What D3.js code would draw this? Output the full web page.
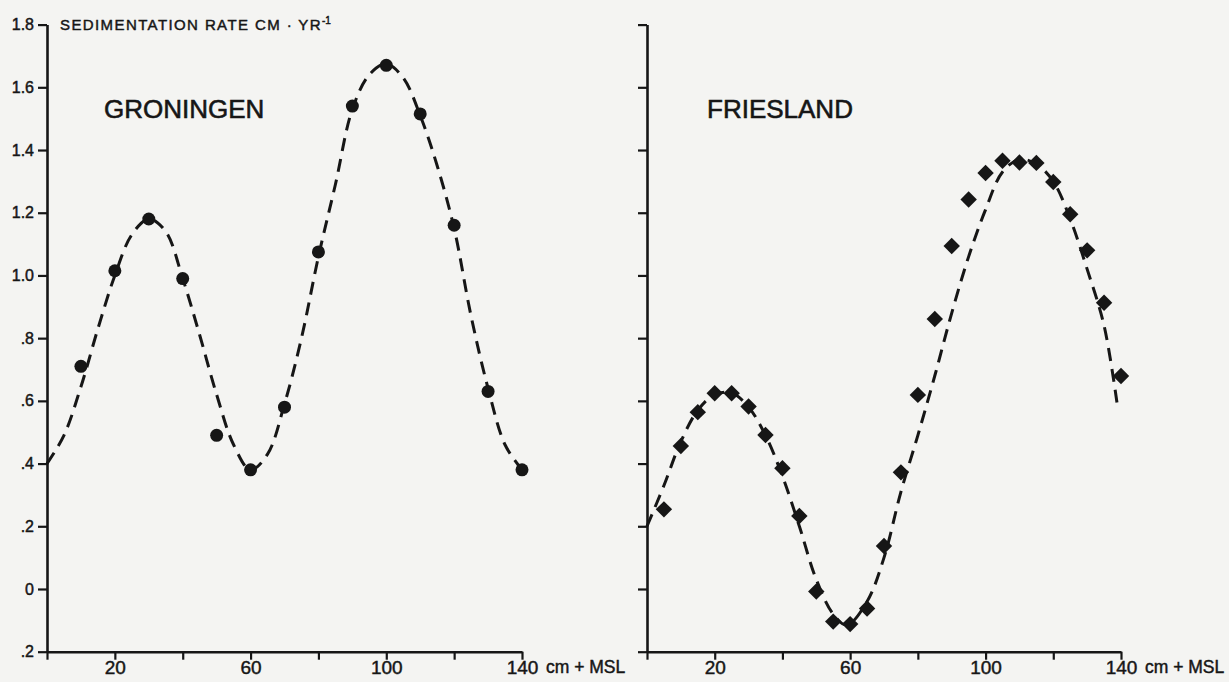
<!DOCTYPE html>
<html>
<head>
<meta charset="utf-8">
<script src="https://cdn.jsdelivr.net/npm/d3@7/dist/d3.min.js"></script>
<style>
  html, body { margin: 0; padding: 0; background: #f4f4f2; }
  svg { display: block; }
  text { font-family: "Liberation Sans", Arial, Helvetica, sans-serif; fill: #161616; stroke: #161616; stroke-width: 0.45px; }
</style>
</head>
<body>
<svg id="chart" width="1229" height="682"></svg>
<script>
// Sedimentation rate (cm/yr) against elevation (cm + MSL)

// Y axis ticks and their printed labels
const yTicks = [-0.2, 0, 0.2, 0.4, 0.6, 0.8, 1.0, 1.2, 1.4, 1.6, 1.8];
const yTickLabels = [".2", "0", ".2", ".4", ".6", ".8", "1.0", "1.2", "1.4", "1.6", "1.8"];

// X axis ticks and labelled positions
const xTicks = [0, 20, 40, 60, 80, 100, 120, 140];
const xLabelled = [20, 60, 100, 140];

// Groningen observations
const gronX = [10, 20, 30, 40, 50, 60, 70, 80, 90, 100, 110, 120, 130, 140];
const gronY = [0.71, 1.015, 1.18, 0.99, 0.49, 0.38, 0.58, 1.075, 1.54, 1.67, 1.515, 1.16, 0.63, 0.38];

// Groningen fitted curve
const gronFitX = [0, 5, 10, 15, 20, 25, 30, 35, 40, 45, 50, 55, 60, 65, 70, 75, 80, 85, 90, 95, 100, 105, 110, 115, 120, 125, 130, 135, 140];
const gronFitY = [0.40, 0.49, 0.645, 0.83, 1.00, 1.13, 1.18, 1.14, 0.99, 0.81, 0.62, 0.46, 0.38, 0.43, 0.59, 0.80, 1.06, 1.29, 1.53, 1.64, 1.675, 1.63, 1.51, 1.35, 1.15, 0.87, 0.64, 0.46, 0.38];

// Friesland observations
const friesX = [5, 10, 15, 20, 25, 30, 35, 40, 45, 50, 55, 60, 65, 70, 75, 80, 85, 90, 95, 100, 105, 110, 115, 120, 125, 130, 135, 140];
const friesY = [0.254, 0.456, 0.564, 0.624, 0.624, 0.582, 0.491, 0.385, 0.233, -0.008, -0.104, -0.112, -0.062, 0.137, 0.372, 0.619, 0.861, 1.094, 1.242, 1.327, 1.366, 1.36, 1.359, 1.298, 1.195, 1.08, 0.913, 0.679];

// Friesland fitted curve
const friesFitX = [0, 5, 10, 15, 20, 25, 30, 35, 40, 45, 50, 55, 59, 65, 70, 75, 80, 85, 90, 95, 100, 105, 110, 115, 120, 125, 130, 135, 139];
const friesFitY = [0.20, 0.33, 0.47, 0.57, 0.62, 0.625, 0.58, 0.49, 0.36, 0.20, 0.03, -0.08, -0.115, -0.04, 0.10, 0.31, 0.49, 0.68, 0.88, 1.06, 1.21, 1.33, 1.37, 1.355, 1.30, 1.18, 1.02, 0.84, 0.58];

const svg = d3.select("#chart");
const ink = "#161616";

const y = d3.scaleLinear().domain([-0.2, 1.8]).range([651.7, 24.6]);
const yLabel = new Map(yTicks.map((t, i) => [t, yTickLabels[i]]));

function panel(x0, x1, name, fitX, fitY, obsX, obsY, marker, showYLabels) {
  const x = d3.scaleLinear().domain([0, 140]).range([x0, x1]);
  const g = svg.append("g");

  // vertical axis
  const yAxis = d3.axisLeft(y)
    .tickValues(yTicks)
    .tickSize(9)
    .tickSizeOuter(0)
    .tickPadding(4)
    .tickFormat(d => showYLabels ? yLabel.get(d) : "");
  const ya = g.append("g").attr("transform", `translate(${x(0)},0)`).call(yAxis);
  ya.selectAll("text").style("font-size", "16px").style("font-family", "'Liberation Sans', Arial, sans-serif");

  // horizontal axis
  const xAxis = d3.axisBottom(x)
    .tickValues(xTicks)
    .tickSize(8)
    .tickSizeOuter(0)
    .tickPadding(1)
    .tickFormat(d => xLabelled.includes(d) ? String(d) : "");
  const xa = g.append("g").attr("transform", `translate(0,${y(-0.2)})`).call(xAxis);
  xa.selectAll("text").style("font-size", "19px").style("font-family", "'Liberation Sans', Arial, sans-serif");

  [ya, xa].forEach(a => {
    a.select(".domain").attr("stroke", ink).attr("stroke-width", 2.6);
    a.selectAll(".tick line").attr("stroke", ink).attr("stroke-width", 2.2);
    a.selectAll("text").attr("fill", ink).attr("stroke", ink).attr("stroke-width", 0.45);
  });

  // unit label after the last tick
  g.append("text")
    .attr("x", x(140) + 24)
    .attr("y", y(-0.2) + 8 + 1)
    .attr("dy", "0.71em")
    .style("font-size", "17.5px")
    .text("cm + MSL");

  // site name
  g.append("text")
    .attr("x", x(0) + (name === "GRONINGEN" ? 57 : 60))
    .attr("y", 118)
    .style("font-size", "26px")
    .style("stroke-width", "0.6px")
    .text(name);

  // fitted curve
  const line = d3.line()
    .x((d, i) => x(fitX[i]))
    .y((d, i) => y(fitY[i]))
    .curve(d3.curveCatmullRom.alpha(0.5));
  g.append("path")
    .attr("d", line(fitX))
    .attr("fill", "none")
    .attr("stroke", ink)
    .attr("stroke-width", 3)
    .attr("stroke-dasharray", "13,8");

  // observations
  const pts = obsX.map((v, i) => ({ x: v, y: obsY[i] }));
  if (marker === "circle") {
    g.selectAll("circle.obs").data(pts).join("circle")
      .attr("class", "obs")
      .attr("cx", d => x(d.x))
      .attr("cy", d => y(d.y))
      .attr("r", 6.5)
      .attr("fill", ink);
  } else {
    const sym = d3.symbol().type(d3.symbolSquare).size(135);
    g.selectAll("path.obs").data(pts).join("path")
      .attr("class", "obs")
      .attr("d", sym)
      .attr("transform", d => `translate(${x(d.x)},${y(d.y)}) rotate(45)`)
      .attr("fill", ink);
  }
  return x;
}

panel(47, 522, "GRONINGEN", gronFitX, gronFitY, gronX, gronY, "circle", true);
panel(647, 1121, "FRIESLAND", friesFitX, friesFitY, friesX, friesY, "diamond", false);

// axis title
const title = svg.append("text")
  .attr("x", 60)
  .attr("y", 30)
  .style("font-size", "15px")
  .style("letter-spacing", "1.4px");
title.append("tspan").text("SEDIMENTATION RATE CM · YR");
title.append("tspan").attr("dy", -6).style("font-size", "10px").style("letter-spacing", "0px").text("-1");
</script>
</body>
</html>
